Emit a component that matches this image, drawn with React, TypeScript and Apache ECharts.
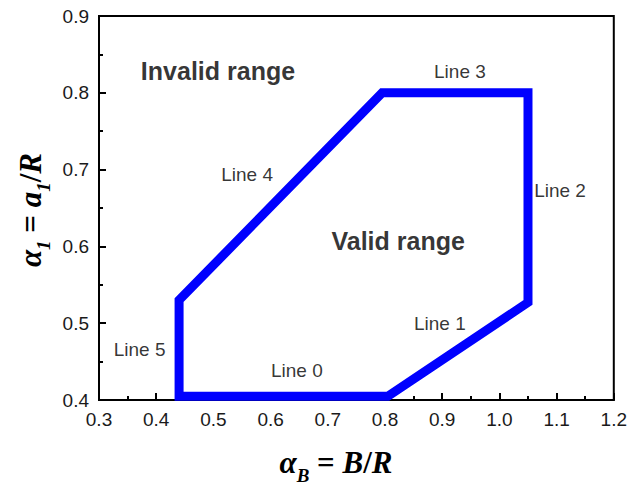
import React, { useEffect, useRef } from "react";
import * as echarts from "echarts";

const boundaryX = [0.62, 0.805, 1.05, 1.05, 0.795, 0.44, 0.44, 0.62];
const boundaryY = [0.405, 0.405, 0.527, 0.8, 0.8, 0.53, 0.405, 0.405];

const noteText = ["Line 0", "Line 1", "Line 2", "Line 3", "Line 4", "Line 5"];
const noteX = [0.646, 0.896, 1.106, 0.931, 0.559, 0.371];
const noteY = [0.439, 0.5, 0.673, 0.828, 0.694, 0.466];

const regionText = ["Invalid range", "Valid range"];
const regionX = [0.508, 0.823];
const regionY = [0.828, 0.607];

const xTicks = { min: 0.3, max: 1.2, interval: 0.1 };
const yTicks = { min: 0.4, max: 0.9, interval: 0.1 };

export default function App() {
  const ref = useRef<HTMLDivElement>(null);
  useEffect(() => {
    if (!ref.current) return;
    const chart = echarts.init(ref.current, null, { renderer: "svg" });
    const titleRich = {
      m: {
        fontFamily: "Liberation Serif",
        fontStyle: "italic",
        fontWeight: "bold",
        fontSize: 31,
        color: "#000",
        lineHeight: 34,
      },
      n: {
        fontFamily: "Liberation Serif",
        fontWeight: "bold",
        fontSize: 31,
        color: "#000",
        lineHeight: 34,
      },
      s: {
        fontFamily: "Liberation Serif",
        fontStyle: "italic",
        fontWeight: "bold",
        fontSize: 19,
        color: "#000",
        lineHeight: 16,
        verticalAlign: "bottom",
        padding: [0, 0, -6, 0],
      },
    };
    const tickLabel = {
      formatter: (v: number) => v.toFixed(1),
      fontFamily: "Liberation Sans",
      fontSize: 19,
      color: "#1a1a1a",
      margin: 10,
    };
    chart.setOption({
      animation: false,
      grid: {
        left: 99,
        right: 13,
        top: 16,
        bottom: 86,
        show: true,
        borderColor: "#000",
        borderWidth: 2,
      },
      xAxis: {
        type: "value",
        min: xTicks.min,
        max: xTicks.max,
        interval: xTicks.interval,
        axisLine: { lineStyle: { color: "#000", width: 2 } },
        axisTick: { inside: true, length: 7, lineStyle: { color: "#000", width: 2 } },
        minorTick: { show: true, splitNumber: 2, length: 4, lineStyle: { color: "#000", width: 2 } },
        splitLine: { show: false },
        axisLabel: tickLabel,
      },
      yAxis: {
        type: "value",
        min: yTicks.min,
        max: yTicks.max,
        interval: yTicks.interval,
        axisLine: { show: true, lineStyle: { color: "#000", width: 2 } },
        axisTick: { show: true, inside: true, length: 7, lineStyle: { color: "#000", width: 2 } },
        minorTick: { show: true, splitNumber: 2, length: 4, lineStyle: { color: "#000", width: 2 } },
        splitLine: { show: false },
        axisLabel: tickLabel,
      },
      graphic: [
        {
          type: "text",
          x: 336,
          y: 462,
          style: {
            text: "{m|α}{s|B}{n| = }{m|B}{n|/}{m|R}",
            rich: titleRich,
            align: "center",
            verticalAlign: "middle",
          },
        },
        {
          type: "text",
          x: 30,
          y: 210,
          rotation: Math.PI / 2,
          style: {
            text: "{m|α}{s|1}{n| = }{m|a}{s|1}{n|/}{m|R}",
            rich: titleRich,
            align: "center",
            verticalAlign: "middle",
          },
        },
      ],
      series: [
        {
          type: "line",
          data: boundaryX.map((x, i) => [x, boundaryY[i]]),
          symbol: "none",
          lineStyle: { color: "#0000ff", width: 9, join: "miter" },
          z: 3,
        },
        {
          type: "scatter",
          data: noteText.map((t, i) => [noteX[i], noteY[i], t]),
          symbolSize: 0,
          label: {
            show: true,
            position: "inside",
            formatter: (p: any) => p.data[2],
            fontFamily: "Liberation Sans",
            fontSize: 19,
            color: "#000",
          },
          z: 4,
        },
        {
          type: "scatter",
          data: regionText.map((t, i) => [regionX[i], regionY[i], t]),
          symbolSize: 0,
          label: {
            show: true,
            position: "inside",
            formatter: (p: any) => p.data[2],
            fontFamily: "Liberation Sans",
            fontWeight: "bold",
            fontSize: 25,
            color: "#000",
          },
          z: 4,
        },
      ],
    });
    return () => chart.dispose();
  }, []);
  return <div ref={ref} style={{ width: 630, height: 486, position: "absolute", left: 0, top: 0 }} />;
}
